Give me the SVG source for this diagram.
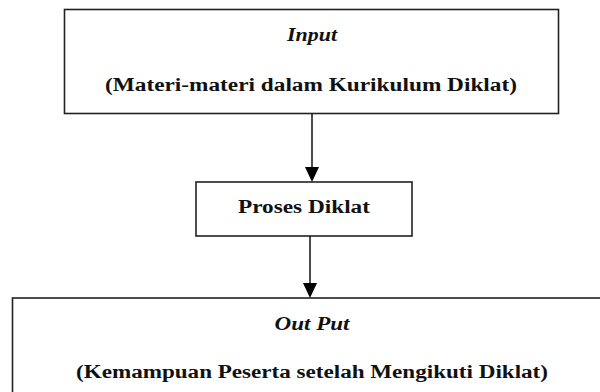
<svg xmlns="http://www.w3.org/2000/svg" width="600" height="392" viewBox="0 0 600 392">
<style>
.box{fill:#fff;stroke:#222;stroke-width:1.6}
.t{font-family:'Liberation Serif','DejaVu Serif',serif;font-weight:bold;fill:#111;text-anchor:middle}
.i{font-style:italic}
.c{stroke:#111;stroke-width:1.5;fill:none}
</style>
<rect width="600" height="392" fill="#fff"/>
<g id="input">
<rect class="box" x="64.5" y="9.5" width="494" height="104"/>
<text class="t i" x="312" y="41" font-size="18" textLength="50" lengthAdjust="spacingAndGlyphs">Input</text>
<text class="t" x="311" y="91" font-size="18" textLength="412" lengthAdjust="spacingAndGlyphs">(Materi-materi dalam Kurikulum Diklat)</text>
</g>
<g id="proses">
<rect class="box" x="196" y="182" width="216" height="54"/>
<text class="t" x="304" y="213" font-size="18" textLength="132" lengthAdjust="spacingAndGlyphs">Proses Diklat</text>
</g>
<g id="output">
<rect class="box" x="12.5" y="298" width="600" height="110"/>
<text class="t i" x="312" y="330" font-size="18" textLength="75" lengthAdjust="spacingAndGlyphs">Out Put</text>
<text class="t" x="312" y="378" font-size="18" textLength="472" lengthAdjust="spacingAndGlyphs">(Kemampuan Peserta setelah Mengikuti Diklat)</text>
</g>
<g id="connectors">
<path class="c" d="M312,114 L312,168"/>
<path d="M305,167 L319,167 L312,182 Z" fill="#000"/>
<path class="c" d="M310,236 L310,284"/>
<path d="M303,283 L317,283 L310,298 Z" fill="#000"/>
</g>
</svg>
